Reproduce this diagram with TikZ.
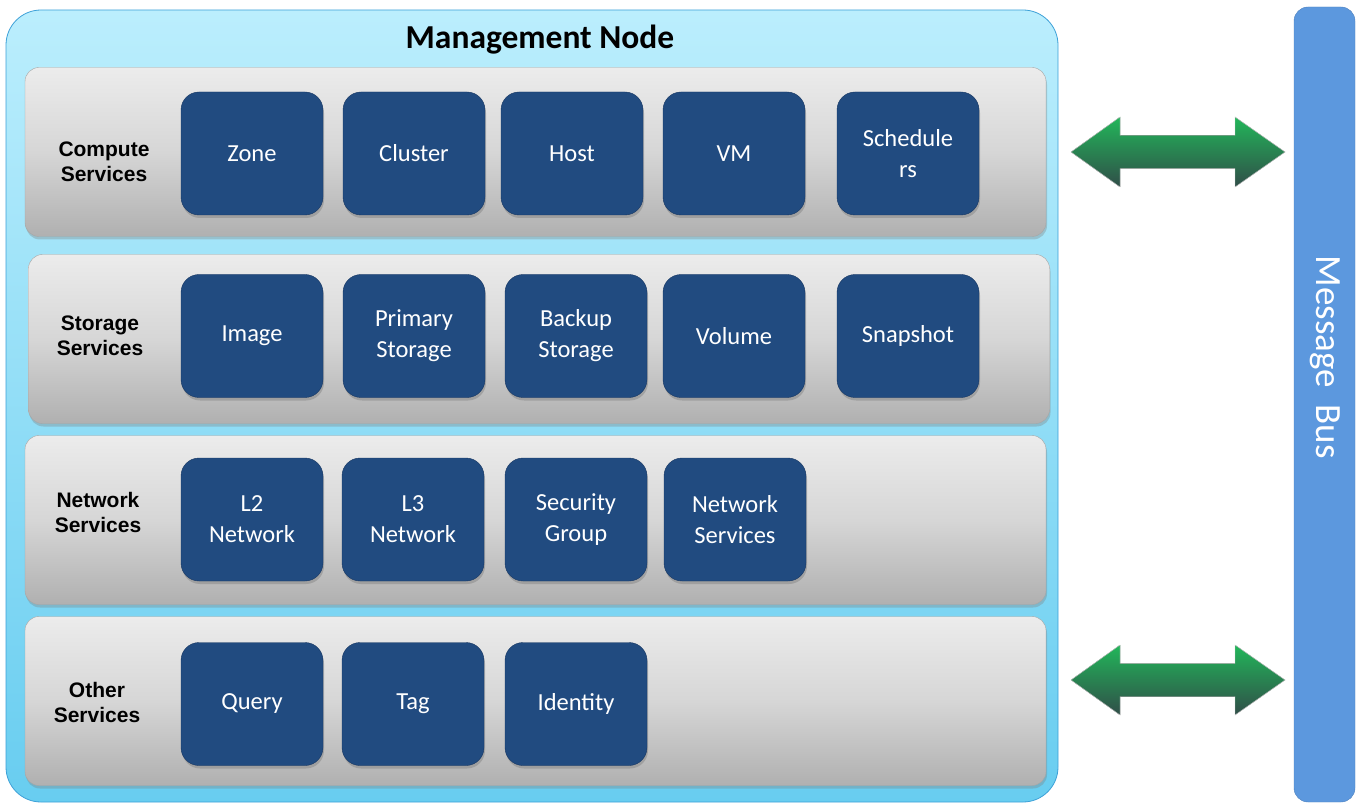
\documentclass[tikz,border=0pt]{standalone}
\usepackage{fontspec}
\setmainfont{Carlito}
\newfontfamily\arialfont{Liberation Sans}
\usepackage{tikz}
\usetikzlibrary{shadows,positioning}
\definecolor{mgmttop}{RGB}{187,238,253}
\definecolor{mgmtbot}{RGB}{104,205,240}
\definecolor{mgmtedge}{RGB}{60,160,215}
\definecolor{rowtop}{RGB}{236,236,236}
\definecolor{rowmid}{RGB}{214,214,214}
\definecolor{rowbot}{RGB}{176,176,176}
\definecolor{svcblue}{RGB}{33,75,128}
\definecolor{svcedge}{RGB}{24,55,98}
\definecolor{busblue}{RGB}{92,152,222}
\definecolor{arrtop}{RGB}{34,182,90}
\definecolor{arrmid}{RGB}{40,150,85}
\definecolor{arrbot}{RGB}{48,78,72}

\begin{document}
\begin{tikzpicture}[x=1pt,y=-1pt,
    rowpanel/.style={draw=gray!70, top color=rowtop, bottom color=rowbot, middle color=rowmid,
        rounded corners=14pt, minimum width=1021pt, minimum height=169pt,
        drop shadow={shadow xshift=1pt, shadow yshift=-3pt, opacity=0.35}},
    rowlabel/.style={font=\arialfont\bfseries\fontsize{21}{25}\selectfont, align=center},
    svcbox/.style={draw=svcedge, fill=svcblue, rounded corners=18pt,
        minimum width=142pt, minimum height=123pt, text=white, align=center,
        font=\fontsize{24.5}{31}\selectfont,
        drop shadow={shadow xshift=1pt, shadow yshift=-3pt, opacity=0.45}}]
\useasboundingbox (0,0) rectangle (1366,810);

% Management node
\node[draw=mgmtedge, thick, top color=mgmttop, bottom color=mgmtbot, rounded corners=35pt,
    minimum width=1052pt, minimum height=792pt] (mgmt) at (532,406) {};
\node[font=\bfseries\fontsize{33.5}{40}\selectfont] (title) at (540,40) {Management Node};

% Service rows
\node[rowpanel] (row1) at (535.5,152) {};
\node[rowpanel] (row2) at (539,339) {};
\node[rowpanel] (row3) at (535.5,520) {};
\node[rowpanel] (row4) at (535.5,701) {};

\node[rowlabel] (lab1) at (104,162) {Compute\\Services};
\node[rowlabel] (lab2) at (100,336) {Storage\\Services};
\node[rowlabel] (lab3) at (98,512) {Network\\Services};
\node[rowlabel] (lab4) at (97,702) {Other\\Services};

% Compute services
\foreach \x/\name/\txt in {252/zone/Zone, 414/cluster/Cluster, 572/host/Host,
    734/vm/VM, 908/sched/Schedule\\rs} {
    \node[svcbox] (\name) at (\x,153.5) {\txt};
}

% Storage services
\foreach \x/\name/\txt in {252/image/Image, 414/pstor/Primary\\Storage,
    576/bstor/Backup\\Storage, 734/volume/Volume, 908/snap/Snapshot} {
    \node[svcbox] (\name) at (\x,336) {\txt};
}

% Network services
\foreach \x/\name/\txt in {252/ltwo/L2\\Network, 413/lthree/L3\\Network,
    576/secgrp/Security\\Group, 735/netsvc/Network\\Services} {
    \node[svcbox] (\name) at (\x,519.5) {\txt};
}

% Other services
\foreach \x/\name/\txt in {252/query/Query, 413/tag/Tag, 576/ident/Identity} {
    \node[svcbox] (\name) at (\x,704) {\txt};
}

% Message bus
\node[draw=busblue!85!black, fill=busblue, rounded corners=14pt,
    minimum width=61pt, minimum height=795pt] (bus) at (1324.5,404.5) {};
\node[rotate=-90, text=white, font=\fontsize{37}{44}\selectfont] (buslabel) at (1325,357) {Message\ \ Bus};

% Arrows to the bus
\foreach \ay in {152,680} {
    \filldraw[draw=gray!40, top color=arrtop, middle color=arrmid, bottom color=arrbot]
        (1071,\ay) -- (1120,\ay-35) -- (1120,\ay-16.5) -- (1235,\ay-16.5) -- (1235,\ay-35)
        -- (1285,\ay) -- (1235,\ay+35) -- (1235,\ay+16.5) -- (1120,\ay+16.5)
        -- (1120,\ay+35) -- cycle;
}

\end{tikzpicture}
\end{document}
